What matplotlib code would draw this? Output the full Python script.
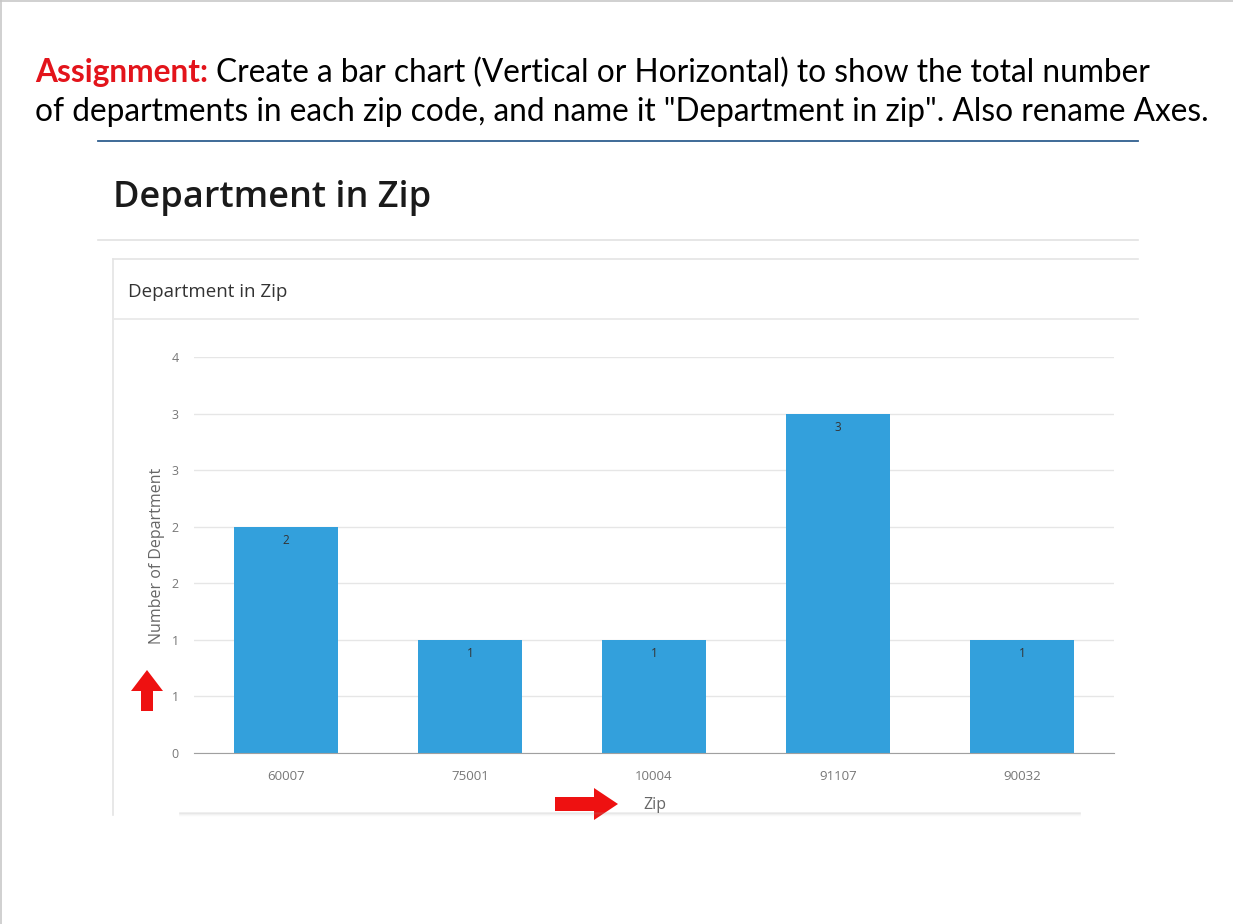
#Department in Zip - slide with bar chart
import matplotlib
matplotlib.use("Agg")
import matplotlib.pyplot as plt
from matplotlib.patches import FancyArrow
import numpy as np

#data
zips = ["60007", "75001", "10004", "91107", "90032"]
counts = [2, 1, 1, 3, 1]
yticks = [0, 0.5, 1, 1.5, 2, 2.5, 3, 3.5]

W, H = 1233, 924
fig = plt.figure(figsize=(W/100, H/100), dpi=100)
fig.patch.set_facecolor("white")

#overlay axes in pixel coordinates for the slide decorations
ov = fig.add_axes([0, 0, 1, 1], zorder=0)
ov.set_xlim(0, W)
ov.set_ylim(H, 0)
ov.axis("off")

#slide border
ov.plot([1, 1], [0, H], color="#c8c8c8", lw=1.2)
ov.plot([0, W], [1, 1], color="#c8c8c8", lw=1.2)

#assignment text
font_slide = "Lato"
fs = 22.8
t1 = ov.text(35, 82, "Assignment:", color="#e3141b", fontsize=fs, fontweight="bold",
             family=font_slide, va="baseline", ha="left")
fig.canvas.draw()
bb = t1.get_window_extent(fig.canvas.get_renderer())
x2 = bb.x1 + 8
ov.text(x2, 82, "Create a bar chart (Vertical or Horizontal) to show the total number",
        color="black", fontsize=fs, family=font_slide, va="baseline", ha="left")
ov.text(35, 121, 'of departments in each zip code, and name it "Department in zip". Also rename Axes.',
        color="black", fontsize=fs, family=font_slide, va="baseline", ha="left")
ov.plot([98, 1138], [141, 141], color="#2f5f8f", lw=1.3)

#dashboard title
ov.text(113, 207, "Department in Zip", color="#1a1a1a", fontsize=26, fontweight="semibold",
        family="Open Sans", va="baseline", ha="left")
ov.plot([98, 1138], [240, 240], color="#e2e2e2", lw=1.2)

#card
ov.plot([113, 113], [259, 815], color="#e4e4e4", lw=1.2)
ov.plot([113, 1138], [259, 259], color="#e4e4e4", lw=1.2)
ov.plot([113, 1138], [319, 319], color="#e8e8e8", lw=1.2)
ov.text(128, 297, "Department in Zip", color="#333333", fontsize=13.5,
        family="Open Sans", va="baseline", ha="left")
#card bottom shadow
for i, a in enumerate([0.18, 0.1, 0.05, 0.02]):
    ov.plot([180, 1080], [813 + i, 813 + i], color="#999999", alpha=a, lw=1.2)

#red arrows
ov.add_patch(FancyArrow(147, 711, 0, -41, width=12, head_width=32, head_length=21,
                        length_includes_head=True, color="#ee1111", lw=0))
ov.add_patch(FancyArrow(555, 804, 63, 0, width=14, head_width=32, head_length=24,
                        length_includes_head=True, color="#ee1111", lw=0))

#the chart itself
ax = fig.add_axes([194/W, 1 - 753/H, 920/W, 396/H], zorder=1)
ax.set_facecolor("none")
x = np.arange(len(zips))
bars = ax.bar(x, counts, width=0.57, color="#33a0dc", zorder=2)
for b, c in zip(bars, counts):
    ax.annotate(str(c), (b.get_x() + b.get_width()/2, c), xytext=(0, -14),
                textcoords="offset pixels", ha="center", va="center",
                fontsize=8.5, color="#333333", family="Open Sans", zorder=3)

ax.set_xlim(-0.5, len(zips) - 0.5)
ax.set_ylim(0, 3.5)
ax.set_yticks(yticks)
ax.set_yticklabels([str(int(v + 0.5)) for v in yticks])
ax.set_xticks(x)
ax.set_xticklabels(zips)
ax.yaxis.grid(True, color="#e6e6e6", lw=1)
ax.set_axisbelow(True)
for s in ["top", "right", "left"]:
    ax.spines[s].set_visible(False)
ax.spines["bottom"].set_color("#a0a0a0")
ax.tick_params(axis="y", length=0, pad=11, labelsize=9, labelcolor="#777777")
ax.tick_params(axis="x", length=0, pad=12, labelsize=9.5, labelcolor="#777777")
for lab in ax.get_xticklabels() + ax.get_yticklabels():
    lab.set_family("Open Sans")

ax.set_ylabel("Number of Department", fontsize=11.5, color="#666666", family="Open Sans")
ax.yaxis.set_label_coords(-0.031, 0.497)
ax.set_xlabel("Zip", fontsize=11.5, color="#666666", family="Open Sans")
ax.xaxis.set_label_coords(0.501, -0.111)

fig.savefig("out.png", dpi=100)
